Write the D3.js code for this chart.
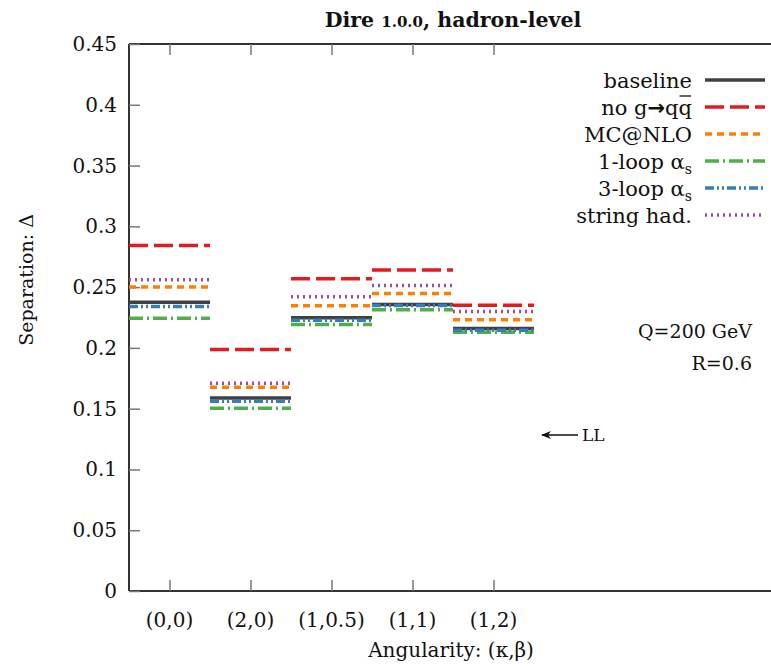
<!DOCTYPE html>
<html>
<head>
<meta charset="utf-8">
<script src="https://cdn.jsdelivr.net/npm/d3@7"></script>
<style>
  html, body { margin: 0; padding: 0; background: #fff; }
  svg { display: block; }
  text { font-family: "DejaVu Serif", "Liberation Serif", serif; fill: #111; }
</style>
</head>
<body>
<svg id="chart" width="771" height="666"></svg>
<script>
// Angularity categories (kappa, beta)
const categories = ["(0,0)", "(2,0)", "(1,0.5)", "(1,1)", "(1,2)"];

// Separation Delta per angularity, one array per shower variation
const baseline  = [0.2376, 0.1588, 0.2247, 0.2357, 0.2159];
const noGqq     = [0.2843, 0.1986, 0.2569, 0.2640, 0.2351];
const mcAtNlo   = [0.2500, 0.1676, 0.2346, 0.2448, 0.2231];
const oneLoop   = [0.2244, 0.1503, 0.2192, 0.2313, 0.2129];
const threeLoop = [0.2340, 0.1560, 0.2228, 0.2349, 0.2145];
const stringHad = [0.2560, 0.1709, 0.2420, 0.2514, 0.2300];

const yTicks = [0, 0.05, 0.1, 0.15, 0.2, 0.25, 0.3, 0.35, 0.4, 0.45];

const series = [
  { key: "baseline",  values: baseline,  color: "#404040", dash: null },
  { key: "noGqq",     values: noGqq,     color: "#e41a1c", dash: "19,6" },
  { key: "mcatnlo",   values: mcAtNlo,   color: "#ff7f00", dash: "7,5" },
  { key: "oneLoop",   values: oneLoop,   color: "#4daf4a", dash: "14,4,2,4" },
  { key: "threeLoop", values: threeLoop, color: "#377eb8", dash: "9,3,2,3,2,3" },
  { key: "stringHad", values: stringHad, color: "#984ea3", dash: "2,4" }
];

const svg = d3.select("#chart");
const plotLeft = 129, plotTop = 44, plotBottom = 591, plotRight = 777;

const x = d3.scaleLinear().domain([-0.5, 7.5]).range([plotLeft, plotRight]);
const y = d3.scaleLinear().domain([0, 0.45]).range([plotBottom, plotTop]);

// frame: left, bottom and top edges
const frame = svg.append("g").attr("stroke", "#333").attr("stroke-width", 2).attr("fill", "none");
frame.append("line").attr("x1", plotLeft).attr("x2", plotLeft).attr("y1", plotTop).attr("y2", plotBottom);
frame.append("line").attr("x1", plotLeft).attr("x2", 771).attr("y1", plotBottom).attr("y2", plotBottom);
frame.append("line").attr("x1", plotLeft).attr("x2", 771).attr("y1", plotTop).attr("y2", plotTop);

// y axis (ticks pointing inward)
const yAxis = d3.axisRight(y).tickValues(yTicks).tickSize(11).tickFormat("");
const gy = svg.append("g").attr("transform", `translate(${plotLeft},0)`).call(yAxis);
gy.select(".domain").remove();
gy.selectAll(".tick line").attr("stroke", "#777").attr("stroke-width", 1.5);

svg.append("g").selectAll("text").data(yTicks).join("text")
  .attr("x", 117).attr("y", d => y(d) + 7)
  .attr("text-anchor", "end").attr("font-size", 20)
  .text(d => d3.format("")(d));

// x axis: bottom ticks up, top ticks down
const idx = d3.range(categories.length);
const xBottom = d3.axisTop(x).tickValues(idx).tickSize(11).tickFormat("");
const gxb = svg.append("g").attr("transform", `translate(0,${plotBottom})`).call(xBottom);
gxb.select(".domain").remove();
gxb.selectAll(".tick line").attr("stroke", "#777").attr("stroke-width", 1.5);

const xTop = d3.axisBottom(x).tickValues(idx).tickSize(11).tickFormat("");
const gxt = svg.append("g").attr("transform", `translate(0,${plotTop})`).call(xTop);
gxt.select(".domain").remove();
gxt.selectAll(".tick line").attr("stroke", "#777").attr("stroke-width", 1.5);

svg.append("g").selectAll("text").data(categories).join("text")
  .attr("x", (d, i) => x(i)).attr("y", 627)
  .attr("text-anchor", "middle").attr("font-size", 20)
  .text(d => d);

// horizontal level segments, one per angularity bin
const marks = svg.append("g");
series.forEach(s => {
  marks.append("g").selectAll("line").data(s.values).join("line")
    .attr("x1", (d, i) => x(i - 0.5))
    .attr("x2", (d, i) => x(i + 0.5))
    .attr("y1", d => y(d)).attr("y2", d => y(d))
    .attr("stroke", s.color)
    .attr("stroke-width", 3.5)
    .attr("stroke-dasharray", s.dash);
});

// title
const title = svg.append("text").attr("x", 453).attr("y", 27)
  .attr("text-anchor", "middle").attr("font-weight", "bold").attr("font-size", 20.5);
title.append("tspan").text("Dire ");
title.append("tspan").attr("font-size", 15).text("1.0.0");
title.append("tspan").text(", hadron-level");

// axis titles
svg.append("text").attr("x", 451).attr("y", 657).attr("text-anchor", "middle")
  .attr("font-size", 20).text("Angularity: (κ,β)");
svg.append("text").attr("transform", "translate(33,280) rotate(-90)")
  .attr("text-anchor", "middle").attr("font-size", 19).text("Separation: Δ");

// legend
const legendY = [80, 107, 134, 161, 188, 215];
const lg = svg.append("g");
series.forEach((s, i) => {
  lg.append("line").attr("x1", 705).attr("x2", 765)
    .attr("y1", legendY[i]).attr("y2", legendY[i])
    .attr("stroke", s.color).attr("stroke-width", 3.5)
    .attr("stroke-dasharray", s.dash);
});
function legendText(i) {
  return lg.append("text").attr("x", 692).attr("y", legendY[i] + 8)
    .attr("text-anchor", "end").attr("font-size", 21);
}
legendText(0).text("baseline");
const t1 = legendText(1);
t1.append("tspan").text("no g");
t1.append("tspan").attr("font-size", 21).attr("font-weight", "bold").attr("font-family", "DejaVu Sans").text("→");
t1.append("tspan").text("qq");
legendText(2).text("MC@NLO");
const t3 = legendText(3);
t3.append("tspan").text("1-loop α");
t3.append("tspan").attr("font-size", 14).attr("dy", 5).text("s");
const t4 = legendText(4);
t4.append("tspan").text("3-loop α");
t4.append("tspan").attr("font-size", 14).attr("dy", 5).text("s");
legendText(5).text("string had.");

// bar over the anti-quark
{
  const node = t1.node();
  const n = node.getNumberOfChars();
  const ext = node.getExtentOfChar(n - 1);
  lg.append("line")
    .attr("x1", ext.x + 1).attr("x2", ext.x + ext.width - 1)
    .attr("y1", legendY[1] - 11).attr("y2", legendY[1] - 11)
    .attr("stroke", "#111").attr("stroke-width", 1.3);
}

// annotations
svg.append("text").attr("x", 752).attr("y", 338).attr("text-anchor", "end")
  .attr("font-size", 19).text("Q=200 GeV");
svg.append("text").attr("x", 752).attr("y", 370).attr("text-anchor", "end")
  .attr("font-size", 19).text("R=0.6");

svg.append("defs").append("marker").attr("id", "arrowhead")
  .attr("viewBox", "0 0 10 10").attr("refX", 9).attr("refY", 5)
  .attr("markerUnits", "userSpaceOnUse")
  .attr("markerWidth", 10).attr("markerHeight", 10).attr("orient", "auto")
  .append("path").attr("d", "M0,1 L10,5 L0,9 L3,5 Z").attr("fill", "#111");
svg.append("line").attr("x1", 578).attr("x2", 542).attr("y1", 435).attr("y2", 435)
  .attr("stroke", "#111").attr("stroke-width", 1.3)
  .attr("marker-end", "url(#arrowhead)");
svg.append("text").attr("x", 582).attr("y", 441).attr("font-size", 17).text("LL");
</script>
</body>
</html>
